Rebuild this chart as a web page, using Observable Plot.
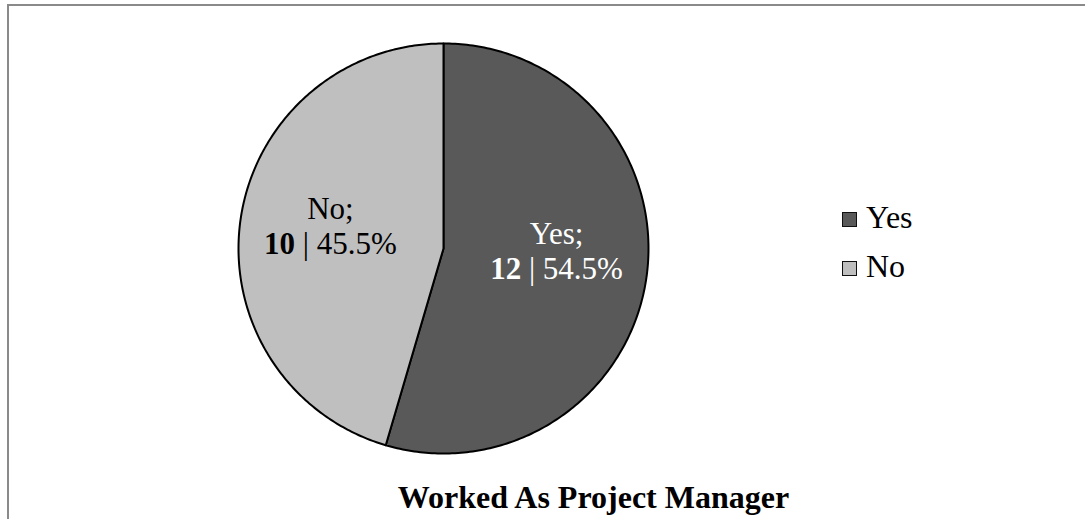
<!DOCTYPE html>
<html><head><meta charset="utf-8">
<script src="https://cdn.jsdelivr.net/npm/d3@7"></script>
<script src="https://cdn.jsdelivr.net/npm/@observablehq/plot@0.6"></script>
<style>
body{margin:0;background:#fff;}
#wrap{position:relative;width:1085px;height:519px;overflow:hidden;font-family:"Liberation Serif","Times New Roman",serif;background:#fff;}
#frame{position:absolute;left:7px;top:4px;width:1200px;height:700px;border:2px solid #8a8a8a;box-sizing:border-box;}
#chart{position:absolute;left:0;top:0;}
#title{position:absolute;left:0;width:1187px;top:481px;text-align:center;font-weight:bold;font-size:32px;line-height:32px;color:#000;white-space:nowrap;}
.leg{position:absolute;left:842px;font-size:32px;line-height:32px;color:#000;white-space:nowrap;}
.sw{position:absolute;left:0;width:15px;height:15px;box-sizing:border-box;border:1.5px solid #111;}
.lt{position:absolute;left:24px;top:0;}
</style></head>
<body>
<div id="wrap">
  <div id="frame"></div>
  <div id="chart"></div>
  <div id="legend"></div>
  <div id="title"></div>
</div>
<script>
const categories = ["Yes", "No"];
const counts = [12, 10];
const sliceColors = ["#595959", "#bfbfbf"];
const labelColors = ["#ffffff", "#000000"];
const chartTitle = "Worked As Project Manager";

const W = 1085, H = 519;
const cx = 443, cy = 248, R = 205;
const fontLabel = 31;

const total = d3.sum(counts);
const arcs = d3.pie().sort(null).value(d => d)(counts);

// outline points of each slice in unit coordinates (y up)
const pts = [];
arcs.forEach((a, i) => {
  const cat = categories[i];
  pts.push({cat, x: 0, y: 0});
  const n = 240;
  for (let k = 0; k <= n; k++) {
    const t = a.startAngle + (a.endAngle - a.startAngle) * k / n;
    pts.push({cat, x: Math.sin(t), y: Math.cos(t)});
  }
});

const labels = arcs.map((a, i) => {
  const mid = (a.startAngle + a.endAngle) / 2;
  return {
    cat: categories[i],
    x: Math.sin(mid) * 0.557,
    y: Math.cos(mid) * 0.42,
    line1: categories[i] + ";",
    num: String(counts[i]),
    rest: " | " + (counts[i] / total * 100).toFixed(1) + "%",
    color: labelColors[i]
  };
});

const ctx = document.createElement("canvas").getContext("2d");
function tw(s, bold) {
  ctx.font = (bold ? "bold " : "") + fontLabel + "px 'Liberation Serif'";
  return ctx.measureText(s).width;
}
labels.forEach(l => {
  l.w1 = tw(l.num, true);
  l.w2 = tw(l.rest, false);
  l.tot = l.w1 + l.w2;
});

const marks = [
  Plot.line(pts, {x: "x", y: "y", z: "cat", fill: "cat", stroke: "#000", strokeWidth: 2, strokeLinejoin: "round", curve: "linear-closed"})
];
labels.forEach(l => {
  marks.push(Plot.text([l], {x: "x", y: "y", text: "line1", fill: l.color, fontSize: fontLabel, textAnchor: "middle", lineAnchor: "bottom", dy: -17}));
  marks.push(Plot.text([l], {x: "x", y: "y", text: "num", fill: l.color, fontSize: fontLabel, fontWeight: "bold", textAnchor: "start", lineAnchor: "bottom", dx: -l.tot / 2, dy: 18}));
  marks.push(Plot.text([l], {x: "x", y: "y", text: "rest", fill: l.color, fontSize: fontLabel, textAnchor: "start", lineAnchor: "bottom", dx: -l.tot / 2 + l.w1, dy: 18}));
});

const plot = Plot.plot({
  width: W, height: H,
  margin: 0,
  style: {background: "transparent", fontFamily: "'Liberation Serif', 'Times New Roman', serif"},
  x: {domain: [-cx / R, (W - cx) / R], axis: null},
  y: {domain: [-(H - cy) / R, cy / R], axis: null},
  color: {domain: categories, range: sliceColors},
  marks
});
document.getElementById("chart").appendChild(plot);

const leg = document.getElementById("legend");
const legTops = [201, 250];
categories.forEach((c, i) => {
  const d = document.createElement("div");
  d.className = "leg";
  d.style.top = legTops[i] + "px";
  d.innerHTML = `<div class="sw" style="top:11px;background:${sliceColors[i]}"></div><div class="lt"></div>`;
  d.querySelector(".lt").textContent = c;
  leg.appendChild(d);
});
document.getElementById("title").textContent = chartTitle;
</script>
</body></html>
